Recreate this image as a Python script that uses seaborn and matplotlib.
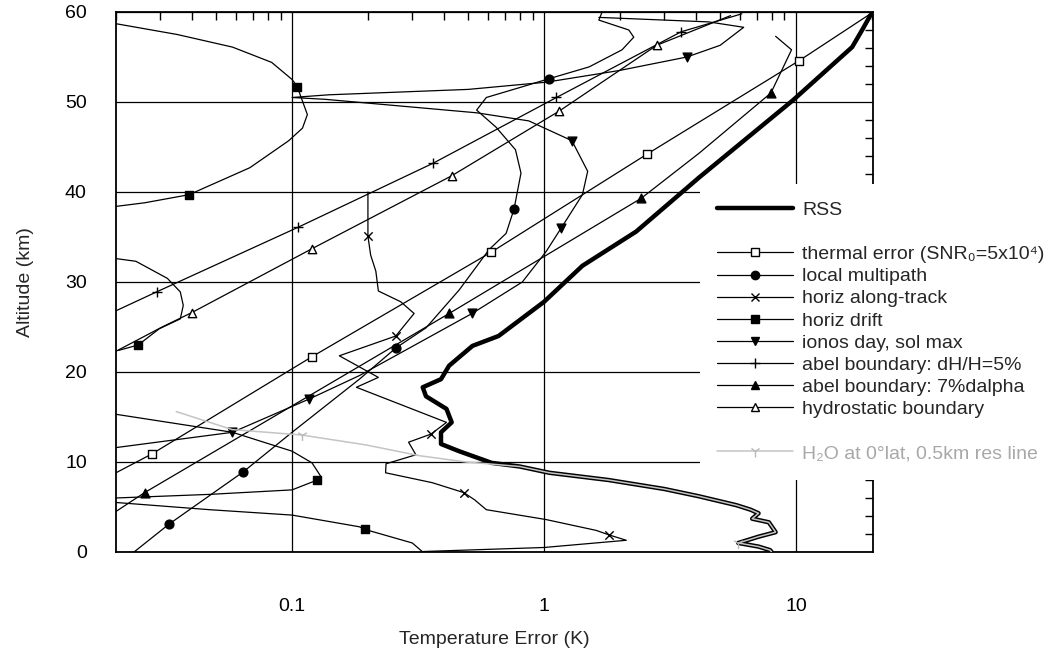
import numpy as np
import pandas as pd
import matplotlib
matplotlib.use("Agg")
import matplotlib.pyplot as plt
import seaborn as sns
from matplotlib.lines import Line2D
from matplotlib.ticker import FixedLocator, FixedFormatter, LogLocator, NullFormatter, MultipleLocator

# ---- error profiles: temperature error (K) versus altitude (km) ----
rss_err = [19.8, 18.3, 16.7, 9.73, 4.12, 2.32, 1.42, 1.0, 0.66, 0.52, 0.42, 0.39, 0.33, 0.34,
           0.41, 0.43, 0.39, 0.39, 0.46, 0.62, 0.8, 1.05, 1.8, 3.0, 4.1, 5.8, 6.6, 7.1, 6.7,
           7.8, 8.3, 7.1, 5.9, 7.1, 7.9, 8.0]
rss_alt = [59.7, 58.0, 56.1, 50.2, 41.6, 35.6, 31.8, 27.8, 24.0, 22.9, 20.7, 19.2, 18.3, 17.3,
           15.9, 14.4, 13.3, 12.0, 11.2, 9.9, 9.5, 8.8, 8.0, 7.0, 6.2, 5.2, 4.7, 4.3, 3.7,
           3.3, 2.2, 1.7, 1.0, 0.6, 0.2, 0.0]

thermal_err = [0.02, 0.0278, 0.12, 0.616, 2.56, 10.3, 19.5]
thermal_alt = [8.8, 10.9, 21.7, 33.3, 44.2, 54.6, 59.7]
thermal_marks = [1, 2, 3, 4, 5]

multipath_err = [0.0236, 0.0325, 0.064, 0.1, 0.185, 0.259, 0.34, 0.46, 0.605, 0.707, 0.76, 0.81,
                 0.77, 0.645, 0.54, 0.59, 0.8, 1.05, 1.51, 2.04, 2.27, 2.17, 1.65, 1.7]
multipath_alt = [0.0, 3.1, 8.9, 13.3, 19.2, 22.7, 24.9, 29.1, 33.6, 35.4, 38.1, 42.1,
                 44.7, 47.2, 49.1, 50.5, 51.6, 52.6, 53.9, 55.8, 57.2, 58.0, 59.1, 60.0]
multipath_marks = [1, 2, 5, 10, 17]

along_err = [0.2, 0.2, 0.205, 0.215, 0.22, 0.27, 0.305, 0.258, 0.154, 0.22, 0.18, 0.41, 0.356,
             0.29, 0.31, 0.236, 0.235, 0.36, 0.48, 0.53, 0.59, 1.02, 1.61, 1.81, 2.12, 1.0, 0.33]
along_alt = [40.0, 35.1, 33.0, 31.2, 29.0, 27.8, 26.5, 24.0, 21.8, 19.4, 18.3, 14.4, 13.1,
             12.2, 10.8, 9.8, 8.8, 7.7, 6.6, 5.8, 4.7, 3.6, 2.4, 1.9, 1.3, 0.5, 0.05]
along_marks = [1, 7, 12, 18, 23]

drift_err = [0.02, 0.035, 0.058, 0.083, 0.1, 0.105, 0.108, 0.115, 0.11, 0.097, 0.068, 0.039, 0.026, 0.02,
             0.02, 0.024, 0.032, 0.036, 0.037, 0.036, 0.0297, 0.0245, 0.0205,
             0.02, 0.058, 0.1, 0.12, 0.13, 0.126, 0.1, 0.047, 0.02,
             0.02, 0.047, 0.1, 0.185, 0.195, 0.3, 0.33]
drift_alt = [58.7, 57.5, 56.1, 54.4, 52.5, 51.7, 50.7, 48.6, 47.1, 45.7, 42.7, 39.7, 38.8, 38.4,
             32.6, 32.3, 30.4, 28.9, 27.4, 25.9, 24.8, 23.0, 22.4,
             15.3, 13.3, 11.2, 9.9, 8.4, 8.0, 6.9, 6.4, 6.0,
             5.5, 4.7, 4.1, 2.8, 2.5, 1.0, 0.0]
drift_seg = [0] * 14 + [1] * 9 + [2] * 9 + [3] * 7
drift_marks = [5, 11, 21, 28, 36]

ionos_err = [0.02, 0.058, 0.117, 0.185, 0.518, 0.82, 1.02, 1.17, 1.42, 1.49, 1.29, 0.87, 0.54,
             0.135, 0.1, 0.14, 0.5, 1.02, 1.99, 3.69, 5.0, 6.2, 4.5, 1.65]
ionos_alt = [11.6, 13.3, 17.0, 19.6, 26.5, 30.0, 33.4, 36.0, 39.7, 42.3, 45.7, 47.9, 48.8,
             50.3, 50.5, 50.8, 51.4, 52.2, 53.5, 55.0, 56.3, 58.3, 58.9, 59.4]
ionos_marks = [1, 2, 4, 7, 10, 19]

abel5_err = [0.02, 0.029, 0.106, 0.363, 1.12, 3.5, 6.1]
abel5_alt = [26.8, 28.9, 36.1, 43.2, 50.5, 57.8, 59.8]
abel5_marks = [1, 2, 3, 4, 5]

abel7_err = [0.02, 0.026, 0.42, 2.43, 4.12, 7.95, 9.6, 8.3]
abel7_alt = [4.5, 6.6, 26.5, 39.3, 44.3, 51.0, 55.8, 57.3]
abel7_marks = [1, 2, 3, 5]

hydro_err = [0.02, 0.0305, 0.04, 0.12, 0.43, 1.15, 2.8, 5.5]
hydro_alt = [22.3, 25.0, 26.6, 33.7, 41.8, 49.0, 56.3, 59.6]
hydro_marks = [2, 3, 4, 5, 6]

h2o_err = [0.0347, 0.0578, 0.109, 0.196, 0.32, 0.49, 0.8, 1.05, 1.8, 3.0, 4.1, 5.8, 6.6, 7.1,
           6.7, 7.8, 8.3, 7.1, 5.9, 7.1, 7.9, 8.0]
h2o_alt = [15.6, 13.6, 13.0, 11.9, 10.7, 10.0, 9.5, 8.8, 8.0, 7.0, 6.2, 5.2, 4.7, 4.3,
           3.7, 3.3, 2.2, 1.7, 1.0, 0.6, 0.2, 0.0]
h2o_marks = [2, 18]

x_ticks = [0.1, 1, 10]
x_tick_labels = ["0.1", "1", "10"]

sns.set_theme(style="white")
plt.rcParams["font.family"] = ["Liberation Sans", "DejaVu Sans"]

fig = plt.figure(figsize=(10.58, 6.52), dpi=100)
ax = fig.add_axes([0.1096, 0.1534, 0.7155, 0.8282])
ax.set_xscale("log")

INK = "black"
THIN = 0.9


def profile(err, alt, seg=None, marks=(), marker=None, face=INK, size=36,
            color=INK, lw=THIN, z=3):
    df = pd.DataFrame({"err": err, "alt": alt,
                       "seg": seg if seg is not None else [0] * len(err)})
    sns.lineplot(data=df, x="err", y="alt", units="seg", estimator=None, sort=False,
                 color=color, linewidth=lw, ax=ax, legend=False, zorder=z)
    if marks:
        pts = df.iloc[list(marks)]
        sns.scatterplot(data=pts, x="err", y="alt", marker=marker, s=size,
                        color=face, edgecolor=color, linewidth=1.0, ax=ax,
                        legend=False, zorder=z + 0.5)


profile(rss_err, rss_alt, lw=3.2, z=3)
profile(h2o_err, h2o_alt, marks=h2o_marks, marker="1", face="#b8b8b8",
        color="#c4c4c4", lw=1.1, size=60, z=4)
profile(thermal_err, thermal_alt, marks=thermal_marks, marker="s", face="white", size=30)
profile(multipath_err, multipath_alt, marks=multipath_marks, marker="o", size=40)
profile(along_err, along_alt, marks=along_marks, marker="x", size=36)
profile(drift_err, drift_alt, seg=drift_seg, marks=drift_marks, marker="s", size=36)
profile(ionos_err, ionos_alt, marks=ionos_marks, marker="v", size=40)
profile(abel5_err, abel5_alt, marks=abel5_marks, marker="+", size=50)
profile(abel7_err, abel7_alt, marks=abel7_marks, marker="^", size=40)
profile(hydro_err, hydro_alt, marks=hydro_marks, marker="^", face="white", size=36)

ax.set_xlim(0.02, 20.2)
ax.set_ylim(0, 60)

ax.xaxis.set_major_locator(FixedLocator(x_ticks))
ax.xaxis.set_major_formatter(FixedFormatter(x_tick_labels))
ax.xaxis.set_minor_locator(LogLocator(base=10, subs=np.arange(2, 10)))
ax.xaxis.set_minor_formatter(NullFormatter())
ax.yaxis.set_major_locator(MultipleLocator(10))
ax.yaxis.set_minor_locator(MultipleLocator(2))

ax.grid(True, which="major", color=INK, linewidth=0.9)
ax.set_axisbelow(True)
ax.tick_params(which="both", direction="in", top=True, right=True, colors=INK,
               labelsize=14)
ax.tick_params(which="major", length=0)
ax.tick_params(which="minor", length=6, width=1.0)
ax.tick_params(axis="x", which="major", pad=33)
ax.tick_params(axis="y", which="major", pad=21)
for sp in ax.spines.values():
    sp.set_color(INK)
    sp.set_linewidth(1.3)

ax.set_xlabel("Temperature Error (K)", fontsize=14, labelpad=12)
ax.set_ylabel("Altitude (km)", fontsize=14, labelpad=22)

# legend with a blank row after RSS and before the water-vapour entry
blank = Line2D([], [], linestyle="none")
handles = [
    Line2D([], [], color=INK, lw=3.2),
    blank,
    Line2D([], [], color=INK, lw=THIN, marker="s", mfc="white", mec=INK, ms=5.5),
    Line2D([], [], color=INK, lw=THIN, marker="o", mfc=INK, mec=INK, ms=6),
    Line2D([], [], color=INK, lw=THIN, marker="x", mec=INK, ms=6, mew=1),
    Line2D([], [], color=INK, lw=THIN, marker="s", mfc=INK, mec=INK, ms=6),
    Line2D([], [], color=INK, lw=THIN, marker="v", mfc=INK, mec=INK, ms=6),
    Line2D([], [], color=INK, lw=THIN, marker="+", mec=INK, ms=7, mew=1),
    Line2D([], [], color=INK, lw=THIN, marker="^", mfc=INK, mec=INK, ms=6),
    Line2D([], [], color=INK, lw=THIN, marker="^", mfc="white", mec=INK, ms=6),
    blank,
    Line2D([], [], color="#c4c4c4", lw=1.1, marker="1", mec="#b8b8b8", ms=8, mew=1),
]
labels = [
    "RSS", " ",
    "thermal error (SNR\u2080=5x10\u2074)",
    "local multipath",
    "horiz along-track",
    "horiz drift",
    "ionos day, sol max",
    "abel boundary: dH/H=5%",
    "abel boundary: 7%dalpha",
    "hydrostatic boundary",
    " ",
    "H\u2082O at 0°lat, 0.5km res line",
]
leg = ax.legend(handles, labels, loc="upper left", bbox_to_anchor=(0.6616, 0.7178),
                bbox_transform=fig.transFigure, frameon=True, facecolor="white",
                edgecolor="none", framealpha=1.0, fontsize=14, handlelength=3.9,
                handletextpad=0.45, labelspacing=0.23, borderpad=0.9, borderaxespad=0)
leg.get_texts()[-1].set_color("#a8a8a8")
leg.set_zorder(10)

fig.savefig("out.png", dpi=100)
